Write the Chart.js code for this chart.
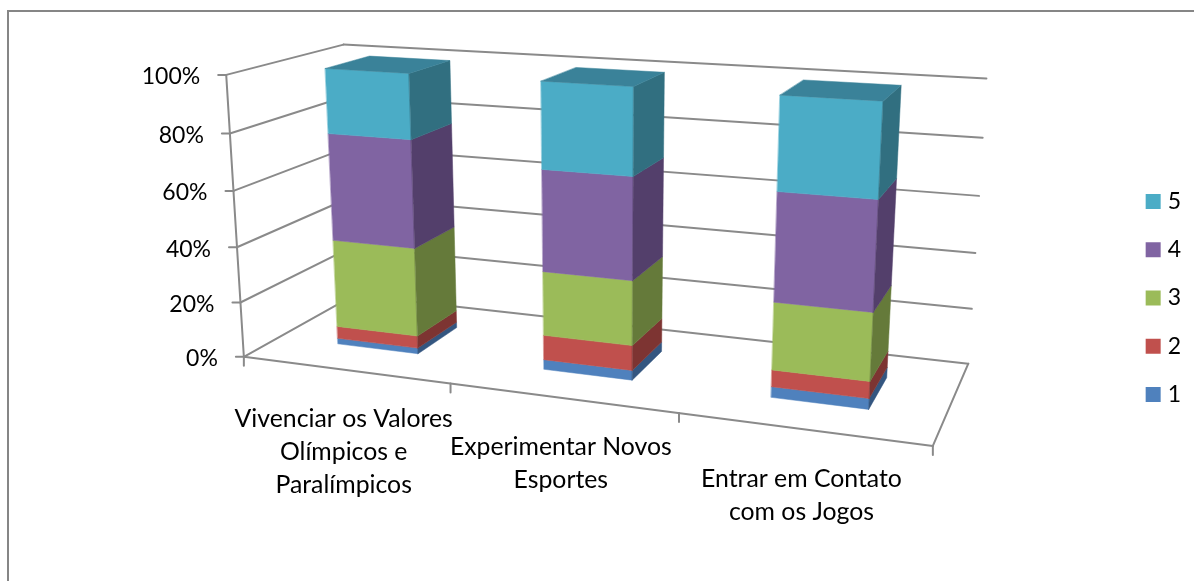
<!DOCTYPE html>
<html><head><meta charset="utf-8">
<script src="https://cdn.jsdelivr.net/npm/chart.js@4"></script>
<style>
body{margin:0;background:#fff;overflow:hidden}
#frame{position:absolute;left:7px;top:10px;right:0;bottom:0;border-left:2px solid #868686;border-top:2px solid #868686}
canvas{position:absolute;left:0;top:0}
</style></head><body>
<div id="frame"></div>
<canvas id="c" width="1194" height="581"></canvas>
<script>
'use strict';
const categories = [['Vivenciar os Valores', 'Olímpicos e', 'Paralímpicos'], ['Experimentar Novos', 'Esportes'], ['Entrar em Contato', 'com os Jogos']];
const s1 = [2.1, 3.5, 3.7];
const s2 = [4.5, 8.8, 5.8];
const s3 = [32.1, 22.7, 23.1];
const s4 = [38.5, 35.4, 36.6];
const s5 = [22.8, 29.6, 30.8];
const seriesNames = ['1', '2', '3', '4', '5'];

const COLORS = ['#4F81BD', '#C0504D', '#9BBB59', '#8064A2', '#4BACC6'];
const SIDE = ['#345680', '#7D3432', '#657A3A', '#533F6B', '#316F80'];
const TOP = '#3A8299';
const GRID = '#8A8A8A';
const TICK_FONT = '23px Lato';
const CAT_FONT = '24.8px Lato';

// camera of the 3D plot: (across 0..1, value 0..1, depth 0..1) -> canvas px
const CAM = [
  [555.634619, -28.224125, 156.608887, 243.857830],
  [25.419518, -285.362157, -23.047562, 356.759454],
  [-0.142961, -0.046765, 0.130367, 1]
];
const BAR_Z = [0.3, 0.7];

function project(X, Y, Z) {
  const w = CAM[2][0] * X + CAM[2][1] * Y + CAM[2][2] * Z + CAM[2][3];
  return [
    (CAM[0][0] * X + CAM[0][1] * Y + CAM[0][2] * Z + CAM[0][3]) / w,
    (CAM[1][0] * X + CAM[1][1] * Y + CAM[1][2] * Z + CAM[1][3]) / w
  ];
}

function quad(c, pts, col) {
  c.fillStyle = col; c.strokeStyle = col; c.lineWidth = 0.5;
  c.beginPath();
  pts.forEach((q, i) => i ? c.lineTo(q[0], q[1]) : c.moveTo(q[0], q[1]));
  c.closePath(); c.fill(); c.stroke();
}
function seg(c, a, b) { c.beginPath(); c.moveTo(a[0], a[1]); c.lineTo(b[0], b[1]); c.stroke(); }

// draws walls, axes and the bars from the chart's own scales and bar elements
const scene3d = {
  id: 'scene3d',
  beforeDatasetsDraw(chart) {
    const c = chart.ctx, area = chart.chartArea, sx = chart.scales.x, sy = chart.scales.y;
    const uOf = (px) => (px - area.left) / area.width;
    const vOf = (py) => (area.bottom - py) / area.height;
    c.save();
    c.lineCap = 'round';
    c.strokeStyle = GRID; c.lineWidth = 2;
    sy.ticks.forEach((t) => {
      const v = vOf(sy.getPixelForValue(t.value));
      const a = project(0, v, 0), b = project(0, v, 1), d = project(1, v, 1);
      seg(c, [a[0] - 8, a[1]], a); seg(c, a, b); seg(c, b, d);
      c.fillStyle = '#000'; c.font = TICK_FONT; c.textAlign = 'right'; c.textBaseline = 'middle';
      c.fillText(t.value + '%', a[0] - 26, a[1] + 2);
    });
    seg(c, project(0, 0, 0), project(0, 1, 0));
    seg(c, project(0, 0, 0), project(1, 0, 0));
    seg(c, project(1, 0, 0), project(1, 0, 1));
    [0, 1 / 3, 2 / 3, 1].forEach((u) => { const a = project(u, 0, 0); seg(c, a, [a[0], a[1] + 9]); });
    categories.forEach((lines, i) => {
      const a = project(uOf(sx.getPixelForTick(i)), 0, 0);
      c.fillStyle = '#000'; c.font = CAT_FONT; c.textAlign = 'center'; c.textBaseline = 'middle';
      lines.forEach((l, k) => c.fillText(l, a[0] - 1, a[1] + 49.5 + k * 33));
    });
    chart.data.datasets.forEach((ds, d) => {
      chart.getDatasetMeta(d).data.forEach((bar) => {
        const u0 = uOf(bar.x - bar.width / 2), u1 = uOf(bar.x + bar.width / 2);
        const v0 = vOf(bar.base), v1 = vOf(bar.y);
        const [z0, z1] = BAR_Z;
        quad(c, [project(u0, v0, z0), project(u1, v0, z0), project(u1, v1, z0), project(u0, v1, z0)], COLORS[d]);
        quad(c, [project(u1, v0, z0), project(u1, v0, z1), project(u1, v1, z1), project(u1, v1, z0)], SIDE[d]);
        if (d === chart.data.datasets.length - 1) quad(c, [project(u0, v1, z0), project(u1, v1, z0), project(u1, v1, z1), project(u0, v1, z1)], TOP);
      });
    });
    c.restore();
    return false;
  }
};

new Chart(document.getElementById('c'), {
  type: 'bar',
  data: {
    labels: categories,
    datasets: [s1, s2, s3, s4, s5].map((vals, i) => ({
      label: seriesNames[i], data: vals, backgroundColor: COLORS[i], stack: 'a',
      categoryPercentage: 0.4, barPercentage: 1
    }))
  },
  options: {
    responsive: false, animation: false,
    layout: { padding: { top: 15, right: 3 } },
    plugins: {
      tooltip: { enabled: false },
      legend: {
        position: 'right', reverse: true,
        labels: { usePointStyle: true, pointStyle: 'rect', boxWidth: 6, boxHeight: 15, padding: 25.25, font: { size: 23, family: 'Lato' }, color: '#000' }
      }
    },
    scales: {
      x: { stacked: true, display: false },
      y: { stacked: true, display: false, min: 0, max: 100, ticks: { stepSize: 20 } }
    }
  },
  plugins: [scene3d]
});
</script>
</body></html>
